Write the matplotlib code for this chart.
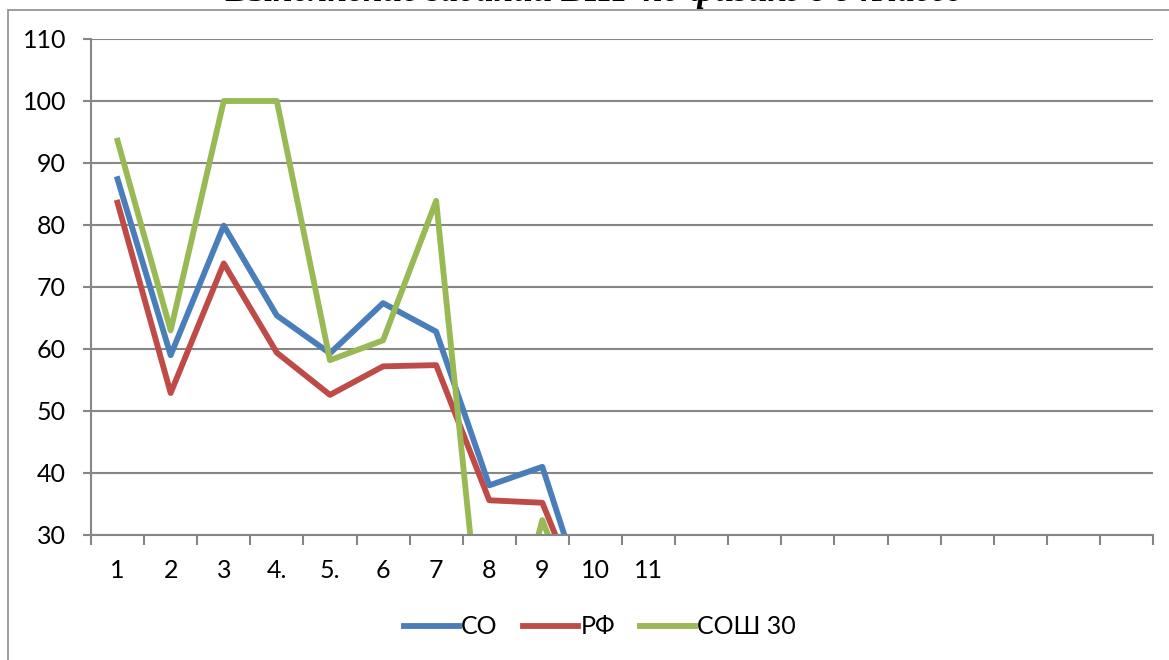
import matplotlib
matplotlib.use('Agg')
import matplotlib.pyplot as plt
from matplotlib.patches import Rectangle
import numpy as np

# data
tasks = ['1', '2', '3', '4.', '5.', '6', '7', '8', '9', '10', '11'] + [''] * 9
so = [87.4, 59.0, 79.9, 65.4, 59.3, 67.4, 62.8, 38.0, 41.0, 14.5]
rf = [83.6, 52.9, 73.8, 59.4, 52.6, 57.2, 57.4, 35.6, 35.2, 14.0]
sosh30 = [93.6, 63.0, 100.0, 100.0, 58.2, 61.4, 83.9, 0.0, 32.4, 10.0]
series_names = ['СО', 'РФ', 'СОШ 30']
colors = ['#4A7EBB', '#BE4B48', '#98B954']
title = 'Выполнение заданий ВПР по физике в 8 классе'

plt.rcParams['font.family'] = ['Lato', 'DejaVu Sans']
grey = '#868686'

fig = plt.figure(figsize=(11.69, 6.6), dpi=100)
W, H = 1169, 660
ax = fig.add_axes([91 / W, 1 - 535 / H, (1153 - 91) / W, (535 - 39) / H])

x = np.arange(1, len(tasks) + 1)
for vals, name, c in zip([so, rf, sosh30], series_names, colors):
    ax.plot(x[:len(vals)], vals, color=c, lw=4.2, label=name)

ax.set_xlim(0.5, len(tasks) + 0.5)
ax.set_ylim(30, 110)
ax.set_yticks(np.arange(30, 111, 10))
ax.yaxis.grid(True, color=grey, lw=1.5)
ax.set_axisbelow(True)

ax.set_xticks(x)
ax.set_xticklabels(tasks)
ax.set_xticks(np.arange(0.5, len(tasks) + 1, 1), minor=True)
ax.tick_params(axis='x', which='major', length=0, pad=17, labelsize=18)
ax.tick_params(axis='x', which='minor', length=7, width=1.5, color=grey, direction='out')
ax.tick_params(axis='y', length=6, width=1.5, color=grey, pad=12, labelsize=18)

for s in ['top', 'right']:
    ax.spines[s].set_visible(False)
for s in ['left', 'bottom']:
    ax.spines[s].set_color(grey)
    ax.spines[s].set_linewidth(1.5)

fig.legend(loc='center', bbox_to_anchor=(600 / W, 1 - 627 / H), ncol=3,
           frameon=False, fontsize=18, handlelength=2.2, handletextpad=0.1,
           columnspacing=1.0)

# outer chart frame (partly outside the picture)
fig.patches.append(Rectangle((8 / W, -1), 2, 2 - 10 / H, transform=fig.transFigure,
                             fill=False, edgecolor='#8c8c8c', lw=1.2))

fig.text(594 / W, 1 - 1 / H, title, ha='center', va='baseline', fontsize=25.5,
         family='Liberation Serif', style='italic', weight='bold')

fig.savefig('out.png', dpi=100)
